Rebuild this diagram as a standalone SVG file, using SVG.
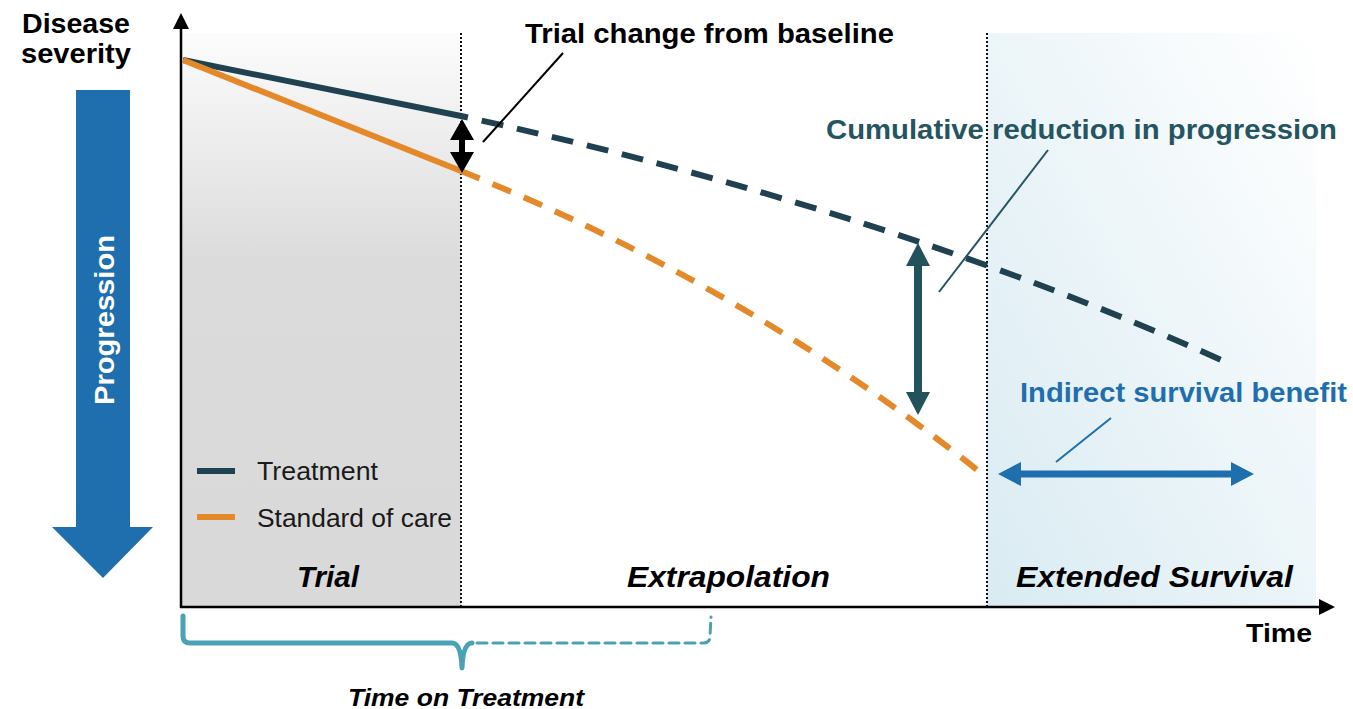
<svg xmlns="http://www.w3.org/2000/svg" width="1353" height="709" viewBox="0 0 1353 709">
  <style>
    .bold { font-family: "Liberation Sans", Arial, sans-serif; font-weight: bold; }
    .reg { font-family: "Liberation Sans", Arial, sans-serif; }
    .bi { font-family: "Liberation Sans", Arial, sans-serif; font-weight: bold; font-style: italic; }
    .axis { stroke: #000; stroke-width: 2.5; fill: none; }
    .divider { stroke: #111; stroke-width: 2; stroke-dasharray: 2 2; fill: none; }
    .trt { stroke: #1f4150; stroke-width: 6; fill: none; }
    .soc { stroke: #e4892a; stroke-width: 6; fill: none; }
    .leader { stroke-width: 2; fill: none; }
    .bracket { stroke: #4aa2b4; fill: none; stroke-linejoin: round; stroke-linecap: round; }
  </style>
  <defs>
    <linearGradient id="trialShade" x1="0" y1="0" x2="0" y2="1">
      <stop offset="0" stop-color="#fcfcfc"/>
      <stop offset="0.4" stop-color="#dbdbdb"/>
      <stop offset="1" stop-color="#d9d9d9"/>
    </linearGradient>
    <linearGradient id="survShade" x1="0" y1="1" x2="1" y2="0">
      <stop offset="0" stop-color="#d9ebf2"/>
      <stop offset="1" stop-color="#ffffff"/>
    </linearGradient>
  </defs>

  <rect width="1353" height="709" fill="#ffffff"/>

  <!-- phase backgrounds -->
  <g id="phases">
    <rect x="181" y="33" width="280" height="574" fill="url(#trialShade)"/>
    <rect x="987" y="33" width="329" height="574" fill="url(#survShade)"/>
    <line class="divider" x1="461" y1="33" x2="461" y2="607"/>
    <line class="divider" x1="987" y1="33" x2="987" y2="607"/>
  </g>

  <!-- axes -->
  <g id="axes">
    <line class="axis" x1="181" y1="608" x2="181" y2="26"/>
    <polygon points="181,13 189,29 173,29" fill="#000"/>
    <line class="axis" x1="180" y1="607" x2="1320" y2="607"/>
    <polygon points="1335,607 1319,599 1319,615" fill="#000"/>
    <text class="bold" x="1246" y="642" font-size="25" textLength="66" lengthAdjust="spacingAndGlyphs">Time</text>
  </g>

  <g id="y-label">
    <text class="bold" x="76" y="33" font-size="27" text-anchor="middle" textLength="108" lengthAdjust="spacingAndGlyphs">Disease</text>
    <text class="bold" x="76" y="63" font-size="27" text-anchor="middle" textLength="110" lengthAdjust="spacingAndGlyphs">severity</text>
  </g>

  <g id="progression-arrow">
    <polygon points="76,90 130,90 130,527 153,527 103,578 52,527 76,527" fill="#1f6eae"/>
    <text class="bold" transform="translate(114,320) rotate(-90)" font-size="27" fill="#ffffff" text-anchor="middle" textLength="170" lengthAdjust="spacingAndGlyphs">Progression</text>
  </g>

  <!-- curves -->
  <g id="connectors">
    <line class="trt" x1="183" y1="60" x2="461" y2="116"/>
    <line class="soc" x1="183" y1="60" x2="461" y2="171"/>
    <path class="trt" d="M461,116 Q890,210 1228,363" stroke-dasharray="22 14" stroke-dashoffset="15"/>
    <path class="soc" d="M461,171 Q746,285 981,473" stroke-dasharray="20 14"/>

    <line class="leader" stroke="#000" x1="483" y1="142" x2="563" y2="53"/>
    <line class="leader" stroke="#245560" x1="939" y1="292" x2="1048" y2="150"/>
    <line class="leader" stroke="#1f6fae" x1="1056" y1="462" x2="1111" y2="418"/>
  </g>

  <g id="trial-change">
    <polygon points="462,119 474,140 465,140 465,152 474,152 462,173 450,152 459,152 459,140 450,140" fill="#000"/>
    <text class="bold" x="525" y="43" font-size="28" textLength="369" lengthAdjust="spacingAndGlyphs">Trial change from baseline</text>
  </g>

  <g id="cumulative-reduction">
    <polygon points="918,243 930,266 922,266 922,392 930,392 918,415 906,392 914,392 914,266 906,266" fill="#24525a"/>
    <text class="bold" x="826" y="139" font-size="28" fill="#245560" textLength="511" lengthAdjust="spacingAndGlyphs">Cumulative reduction in progression</text>
  </g>

  <g id="survival-benefit">
    <polygon points="998,474 1021,462 1021,470.5 1231,470.5 1231,462 1254,474 1231,486 1231,477.5 1021,477.5 1021,486" fill="#1f6fae"/>
    <text class="bold" x="1020" y="402" font-size="28" fill="#1f6fae" textLength="327" lengthAdjust="spacingAndGlyphs">Indirect survival benefit</text>
  </g>

  <g id="legend">
    <line x1="197" y1="471" x2="235" y2="471" stroke="#1f4150" stroke-width="6"/>
    <text class="reg" x="257" y="480" font-size="25" fill="#1a1a1a" textLength="121" lengthAdjust="spacingAndGlyphs">Treatment</text>
    <line x1="197" y1="517" x2="235" y2="517" stroke="#e4892a" stroke-width="6"/>
    <text class="reg" x="257" y="527" font-size="25" fill="#1a1a1a" textLength="195" lengthAdjust="spacingAndGlyphs">Standard of care</text>
  </g>

  <g id="phase-labels">
    <text class="bi" x="297" y="587" font-size="29" textLength="62" lengthAdjust="spacingAndGlyphs">Trial</text>
    <text class="bi" x="627" y="587" font-size="29" textLength="203" lengthAdjust="spacingAndGlyphs">Extrapolation</text>
    <text class="bi" x="1016" y="587" font-size="29" textLength="277" lengthAdjust="spacingAndGlyphs">Extended Survival</text>
  </g>

  <g id="time-on-treatment">
    <path class="bracket" stroke-width="5" d="M183,616 L183,636 Q183,643 190,643 L452,643 Q461,643 462,668 Q463,643 472,643"/>
    <path class="bracket" stroke-width="3" stroke-dasharray="10 6" d="M477,643 L704,643 Q710,643 710,636 L711,617"/>
    <text class="bi" x="348" y="706" font-size="24" textLength="236" lengthAdjust="spacingAndGlyphs">Time on Treatment</text>
  </g>
</svg>
